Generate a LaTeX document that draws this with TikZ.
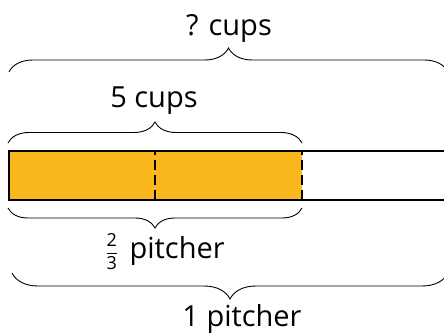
\documentclass[tikz,border=0pt]{standalone}
\usepackage{fontspec}
\usepackage{amsmath}
\setmainfont{Open Sans}
\usetikzlibrary{decorations.pathreplacing}
\definecolor{barorange}{RGB}{251,183,30}
\tikzset{
  lbl/.style={inner sep=0pt, anchor=base, font=\fontsize{29}{35}\selectfont},
  bracetop/.style={decorate, decoration={brace, amplitude=#1}, line width=0.9pt},
  bracebot/.style={decorate, decoration={brace, mirror, amplitude=#1}, line width=0.9pt},
  barline/.style={line width=2.2pt},
  divline/.style={line width=1.8pt, dash pattern=on 10pt off 5pt}
}
\begin{document}
\begin{tikzpicture}[x=1pt,y=1pt]
\useasboundingbox (0,0) rectangle (444,332);
\clip (0,0) rectangle (444,332);
% bar corners
\coordinate (bl) at (9,132);
\coordinate (tl) at (9,181);
\coordinate (m1b) at (155,132);
\coordinate (m1t) at (155,181);
\coordinate (m2b) at (302,132);
\coordinate (m2t) at (302,181);
\coordinate (rb) at (452,132);
\coordinate (rt) at (452,181);
% brace ends
\coordinate (b1l) at (9,260);
\coordinate (b1r) at (448,260);
\coordinate (b2l) at (8,189);
\coordinate (b2r) at (302,189);
\coordinate (b3l) at (8,124);
\coordinate (b3r) at (302,124);
\coordinate (b4l) at (12,59);
\coordinate (b4r) at (448,59);
% bar
\fill[barorange] (bl) rectangle (m2t);
\draw[barline] (bl) rectangle (rt);
\draw[divline] (m1b) -- (m1t);
\draw[divline] (m2b) -- (m2t);
% braces
\draw[bracetop=24pt] (b1l) -- (b1r);
\draw[bracetop=21pt] (b2l) -- (b2r);
\draw[bracebot=20pt] (b3l) -- (b3r);
\draw[bracebot=26pt] (b4l) -- (b4r);
% labels
\node[lbl] (qcups) at (229,296) {? cups};
\node[lbl] (fivecups) at (154,224) {5 cups};
\node[lbl] (twothirds) at (165,74) {{\fontsize{18}{18}\selectfont$\dfrac{\text{2}}{\text{3}}$}\hspace{0.4em}pitcher};
\node[lbl] (onepitcher) at (242,6) {1 pitcher};
\end{tikzpicture}
\end{document}
